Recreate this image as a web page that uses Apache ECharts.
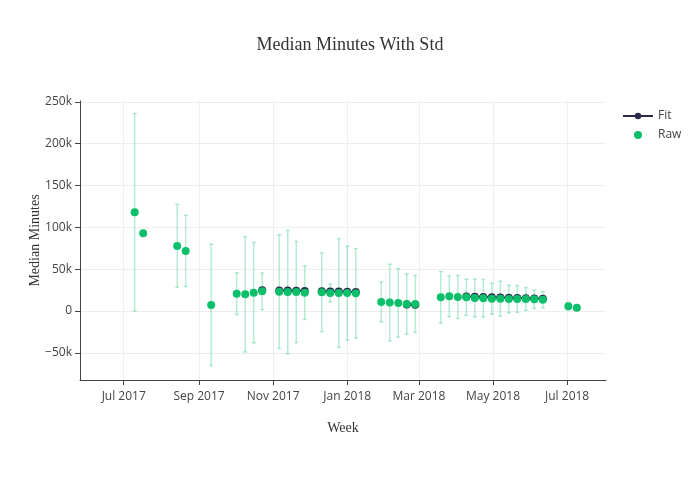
<!DOCTYPE html>
<html><head><meta charset="utf-8">
<script src="https://cdn.jsdelivr.net/npm/echarts@6/dist/echarts.min.js"></script>
<style>html,body{margin:0;padding:0;background:#fff}#c{width:700px;height:500px}</style>
</head><body><div id="c"></div>
<script>
var rawDates = ['2017-07-10','2017-07-17','2017-08-14','2017-08-21','2017-09-11','2017-10-02','2017-10-09','2017-10-16','2017-10-23','2017-11-06','2017-11-13','2017-11-20','2017-11-27','2017-12-11','2017-12-18','2017-12-25','2018-01-01','2018-01-08','2018-01-29','2018-02-05','2018-02-12','2018-02-19','2018-02-26','2018-03-19','2018-03-26','2018-04-02','2018-04-09','2018-04-16','2018-04-23','2018-04-30','2018-05-07','2018-05-14','2018-05-21','2018-05-28','2018-06-04','2018-06-11','2018-07-02','2018-07-09'];
var rawMedian = [118000,93000,77800,71800,7200,20700,20000,21900,23500,23100,22700,22700,21900,22300,21500,21500,21500,21100,10800,10000,9600,8400,8400,16400,17600,16700,16400,15600,15200,14700,14700,14400,14400,14400,14000,13500,5600,4000];
var rawStd = [118000,0,49600,42700,72600,25000,69000,60000,22000,68000,73700,60500,32000,47000,10800,65000,56000,53500,24000,46000,41000,36000,34000,30800,24400,25700,21700,22700,22400,18500,21000,16400,16000,13600,11000,9700,4500,0];
var fitDates = ['2017-10-23','2017-10-30','2017-11-06','2017-11-13','2017-11-20','2017-11-27','2017-12-04','2017-12-11','2017-12-18','2017-12-25','2018-01-01','2018-01-08','2018-01-15','2018-02-19','2018-02-26','2018-03-05','2018-04-09','2018-04-16','2018-04-23','2018-04-30','2018-05-07','2018-05-14','2018-05-21','2018-05-28','2018-06-04','2018-06-11'];
var fitValues = [24800,'-',24600,24400,24200,24000,'-',23600,23400,23200,23000,22800,'-',7600,7500,'-',17200,16900,16600,16300,16000,15700,15400,15100,14800,14500];
var yTicks = [-50000,0,50000,100000,150000,200000,250000];
var xTicks = ['2017-07-01','2017-09-01','2017-11-01','2018-01-01','2018-03-01','2018-05-01','2018-07-01'];

function ts(s){var p=s.split('-');return Date.UTC(+p[0],+p[1]-1,+p[2]);}
var months=['Jan','Feb','Mar','Apr','May','Jun','Jul','Aug','Sep','Oct','Nov','Dec'];
var green='#0cbf6a', dark='#2c2a4a';
var rawData = rawDates.map(function(d,i){return [ts(d), rawMedian[i]];});
var errData = rawDates.map(function(d,i){return [ts(d), rawMedian[i]-rawStd[i], rawMedian[i]+rawStd[i]];}).filter(function(e,i){return rawStd[i]>0;});
var fitData = fitDates.map(function(d,i){return [ts(d), fitValues[i]];});
var xTickTs = xTicks.map(ts);

var chart = echarts.init(document.getElementById('c'), null, {renderer:'canvas'});
chart.setOption({
  animation: false,
  backgroundColor: '#fff',
  title: {text:'Median Minutes With Std', left:'center', top:31,
    textStyle:{fontFamily:'Liberation Serif', fontSize:18, fontWeight:'normal', color:'#333'}},
  legend: {orient:'vertical', left:622, top:110, padding:0, itemWidth:30, itemHeight:8, itemGap:7,
    textStyle:{fontFamily:'Open Sans', fontSize:12, color:'#444'},
    data:[{name:'Fit'},{name:'Raw', icon:'circle'}]},
  grid: {left:80, right:94, top:101, bottom:120, containLabel:false},
  xAxis: {type:'value', min:ts('2017-05-26'), max:ts('2018-08-02'),
    name:'Week', nameLocation:'middle', nameGap:41,
    nameTextStyle:{fontFamily:'Liberation Serif', fontSize:14, color:'#333'},
    axisLine:{show:true, onZero:false, lineStyle:{color:'#444', width:1}},
    axisTick:{show:true, length:5, inside:false, customValues:xTickTs, lineStyle:{color:'#444'}},
    axisLabel:{customValues:xTickTs, fontFamily:'Open Sans', fontSize:12, color:'#444', margin:11,
      formatter:function(v){var d=new Date(v);return months[d.getUTCMonth()]+' '+d.getUTCFullYear();}},
    splitLine:{show:true, lineStyle:{color:'#eee', width:1}}
  },
  yAxis: {type:'value', min:-82500, max:251000,
    name:'Median Minutes', nameLocation:'middle', nameGap:38, nameMoveOverlap:false,
    nameTextStyle:{fontFamily:'Liberation Serif', fontSize:14, color:'#333'},
    axisLine:{show:true, onZero:false, lineStyle:{color:'#444', width:1}},
    axisTick:{show:true, length:5, inside:false, customValues:yTicks, lineStyle:{color:'#444'}},
    axisLabel:{customValues:yTicks, fontFamily:'Open Sans', fontSize:12, color:'#444', margin:8,
      formatter:function(v){if(v===0)return '0';var s=Math.abs(v/1000)+'k';return v<0?'\u2212'+s:s;}},
    splitLine:{show:true, lineStyle:{color:'#eee', width:1}}
  },
  series: [
    {name:'Fit', type:'line', data:fitData, connectNulls:false, symbol:'circle', symbolSize:8,
      itemStyle:{color:dark}, lineStyle:{color:dark, width:2}, z:3},
    {name:'Err', type:'custom', data:errData, z:2, silent:true,
      renderItem:function(params, api){
        var x=api.value(0);
        var lo=api.coord([x, api.value(1)]);
        var hi=api.coord([x, api.value(2)]);
        var w=2;
        var st={stroke:green, lineWidth:1.5, opacity:0.3};
        return {type:'group', children:[
          {type:'line', shape:{x1:lo[0],y1:lo[1],x2:hi[0],y2:hi[1]}, style:st},
          {type:'line', shape:{x1:lo[0]-w,y1:lo[1],x2:lo[0]+w,y2:lo[1]}, style:st},
          {type:'line', shape:{x1:hi[0]-w,y1:hi[1],x2:hi[0]+w,y2:hi[1]}, style:st}
        ]};
      }},
    {name:'Raw', type:'scatter', data:rawData, symbol:'circle', symbolSize:8,
      itemStyle:{color:green, opacity:1}, z:4}
  ]
});
</script></body></html>
